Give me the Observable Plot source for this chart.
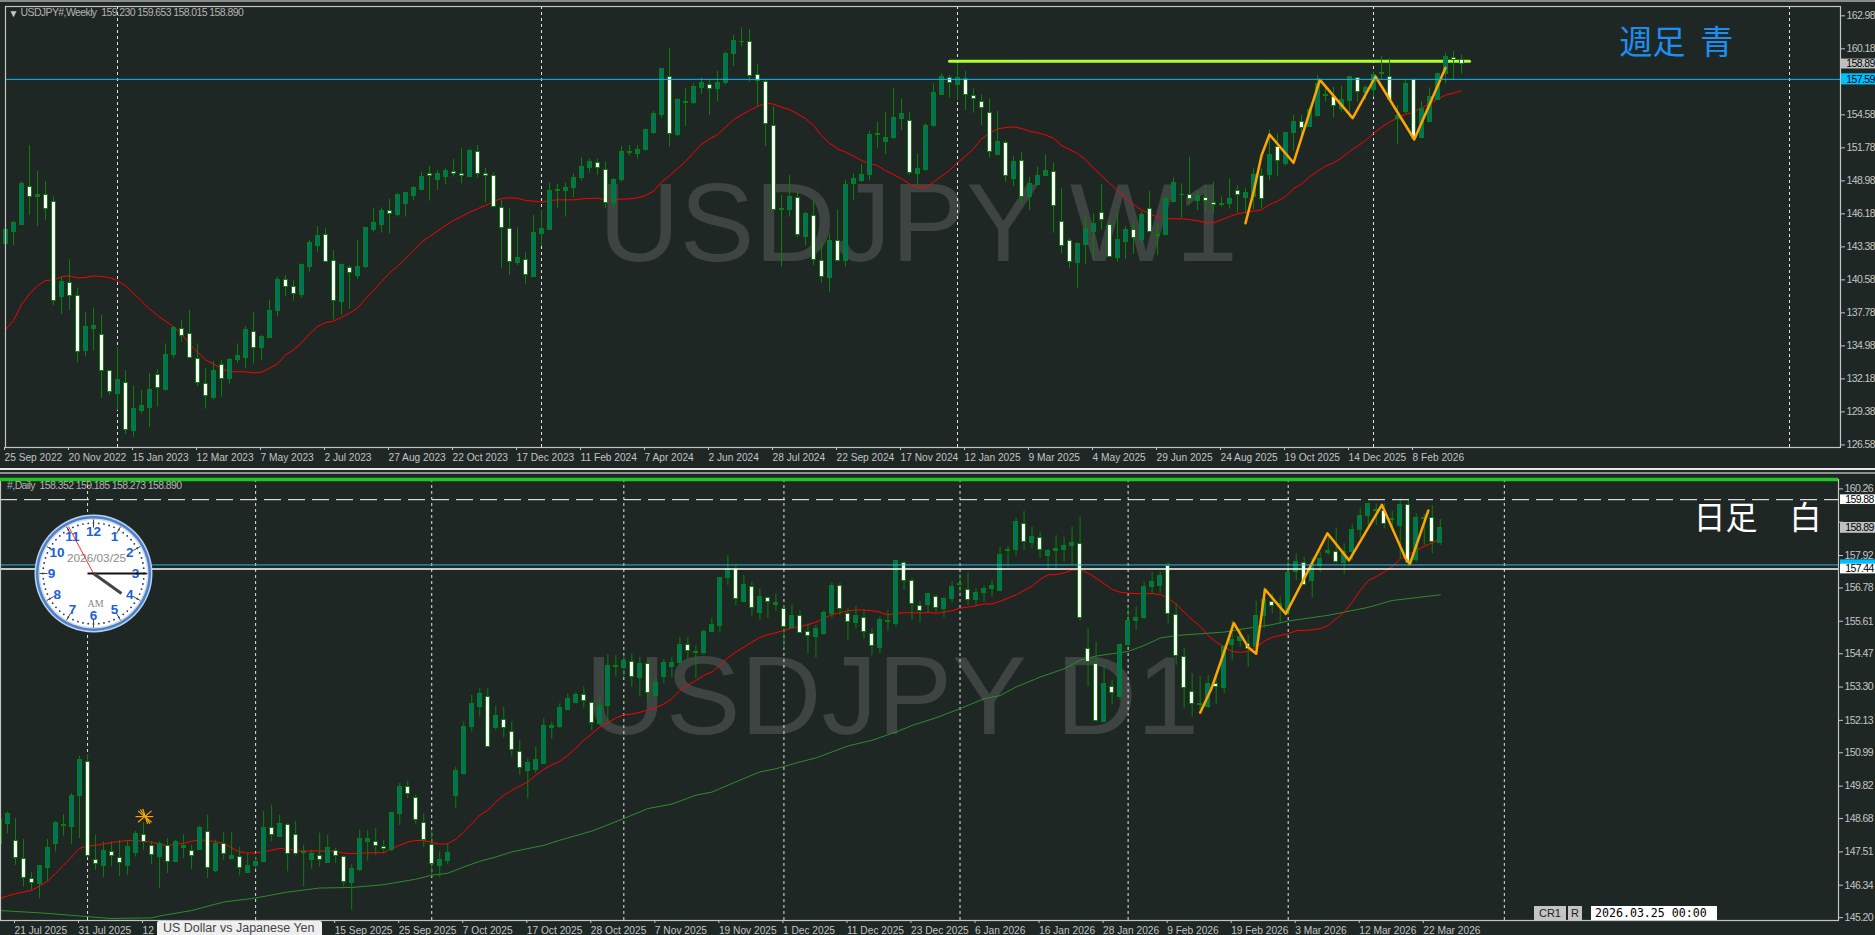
<!DOCTYPE html>
<html><head><meta charset="utf-8">
<script src="https://cdn.jsdelivr.net/npm/d3@7"></script>
<script src="https://cdn.jsdelivr.net/npm/@observablehq/plot@0.6"></script>
<style>
html,body{margin:0;padding:0;background:#1e2724;overflow:hidden}
#page{position:relative;width:1875px;height:935px;overflow:hidden;background:#1e2724;font-family:"Liberation Sans",sans-serif}
#page>div{position:absolute}
#page svg{display:block;background:transparent}
.bar{box-sizing:border-box;text-align:center;color:#222;font-size:11px}
</style></head><body><div id="page">
<div style="left:0;top:0;width:1875px;height:2px;background:#8a8a8a"></div>
<div id="weekly" style="left:0;top:0"></div>
<div style="left:0;top:468px;width:1875px;height:2px;background:#e8e8e8"></div>
<div style="left:0;top:472px;width:1875px;height:2px;background:#8f8f8f"></div>
<div id="daily" style="left:0;top:470px"></div>
<div id="clock" style="left:31px;top:511px"></div>
<div style="left:157px;top:921px;width:165px;height:14px;background:#eeeeee;border-radius:2px 2px 0 0;color:#444;font-size:12.5px;line-height:15px;padding-left:6px;box-sizing:border-box;white-space:nowrap;overflow:hidden">US Dollar vs Japanese Yen</div>
<div class="bar" style="left:1534px;top:906px;width:32px;height:14px;background:#c4c4c4;line-height:15px">CR1</div>
<div class="bar" style="left:1568px;top:906px;width:14px;height:14px;background:#c4c4c4;line-height:15px">R</div>
<div style="left:1591px;top:906px;width:126px;height:14px;background:#fff;color:#000;font:11.6px 'DejaVu Sans Mono',monospace;line-height:15px;padding-left:4px;box-sizing:border-box;white-space:nowrap">2026.03.25 00:00</div>
</div>
<script>
// ---------- weekly candles ----------
const wOpen=[143.64,144.63,145.25,148.5,147.6,147.74,147.17,139.11,140.3,139.2,134.53,136.4,135.89,132.83,130.91,131.87,127.77,129.44,129.72,132.49,131.25,134.22,136.37,135.97,133.85,131.73,130.57,133.34,132.18,133.77,133.96,136.14,134.81,135.66,137.95,140.58,139.96,139.28,141.66,143.44,144.37,142.17,138.69,141.57,140.89,141.66,144.8,145.25,146.41,146.07,147.0,147.68,148.22,149.55,149.04,149.32,149.77,149.55,149.32,151.41,149.55,149.38,146.66,144.88,141.97,142.25,140.84,144.48,144.8,148.1,148.13,148.36,149.24,150.08,150.48,149.94,147.11,149.01,151.33,151.24,151.58,153.02,154.55,157.75,152.85,155.57,155.57,156.84,157.07,156.76,157.27,159.76,160.75,160.75,158.0,157.35,153.62,146.52,146.52,147.51,144.2,145.98,142.17,140.75,143.86,142.17,148.7,148.98,149.46,152.85,152.26,152.6,154.21,154.04,149.57,149.86,153.62,156.25,157.72,157.1,157.61,156.14,155.65,154.72,151.19,152.18,149.15,150.65,147.6,148.67,149.4,149.69,145.47,143.86,141.99,143.55,144.68,146.24,145.22,142.45,143.8,144.8,143.95,146.63,144.31,144.4,147.2,147.82,147.76,147.28,147.51,147.14,146.89,147.03,148.1,147.54,147.6,149.38,149.49,151.84,150.42,153.05,153.93,153.59,154.47,156.16,156.08,155.09,155.74,157.69,156.42,156.7,158.06,157.83,154.24,154.81,157.52,152.63,153.96,155.88,158.03,159.44,159.23];
const wClose=[144.77,145.42,148.73,147.65,147.79,146.61,138.83,140.38,139.17,134.42,136.57,136.68,132.86,131.11,132.1,127.86,129.61,129.89,131.25,131.42,134.22,136.51,135.86,133.99,131.87,130.77,132.86,132.18,133.79,134.13,136.31,134.84,135.75,137.92,140.58,139.99,139.39,141.85,143.72,144.31,142.11,138.8,141.85,141.17,141.68,145.0,145.42,146.44,146.18,147.82,147.91,148.41,149.29,149.35,149.6,149.83,149.57,149.35,151.53,149.57,149.43,146.77,145.02,142.11,142.45,141.01,144.54,144.91,148.13,148.22,148.39,149.24,150.14,150.59,150.11,147.06,149.07,151.44,151.44,151.61,153.31,154.66,158.43,152.97,155.8,155.68,156.96,157.3,156.81,157.3,159.76,160.86,160.8,157.86,157.49,153.82,146.49,146.61,147.6,144.4,146.18,142.28,140.84,143.86,142.22,148.64,149.15,149.49,152.85,152.97,152.63,154.33,154.66,149.63,150.0,153.65,156.45,157.78,157.3,157.72,156.28,155.94,155.17,151.44,152.29,149.35,150.59,147.62,148.73,149.4,149.83,146.86,143.47,142.11,143.64,144.88,145.33,145.67,142.53,143.98,144.82,144.17,146.1,144.68,144.4,147.45,148.78,147.76,147.4,147.68,147.23,146.97,147.0,147.45,147.74,147.96,149.49,147.45,151.19,150.68,153.02,153.99,153.5,154.95,157.21,156.28,155.37,155.85,157.75,156.53,156.87,157.95,158.14,155.8,154.44,157.21,152.54,155.09,156.08,158.03,159.5,159.25,158.89];
const wHigh=[144.91,145.56,148.92,151.98,149.77,148.92,147.6,140.81,142.28,139.9,137.84,138.2,137.56,132.89,134.81,132.89,131.56,131.2,132.61,132.97,135.15,136.62,137.13,137.98,135.15,133.03,133.65,133.79,133.91,135.15,136.62,137.78,135.86,138.83,140.81,140.92,140.52,141.94,143.92,145.11,144.91,143.07,141.94,141.8,143.92,145.0,146.61,146.69,147.4,147.93,148.02,148.5,149.72,150.2,149.86,150.0,150.79,151.7,151.64,151.98,150.05,149.66,147.31,146.61,145.0,142.87,146.04,146.46,148.81,148.67,148.78,149.57,150.93,150.82,150.82,150.59,149.15,151.89,151.98,151.98,153.39,154.86,158.51,160.18,155.94,156.81,157.21,157.72,157.55,158.26,159.9,161.31,161.96,161.82,158.85,157.63,155.29,147.74,149.43,148.02,146.32,147.26,143.78,144.48,146.52,149.01,149.57,150.37,153.17,153.96,154.81,156.79,155.91,154.78,151.27,153.82,157.21,158.06,157.92,158.91,158.26,156.79,156.28,155.94,154.86,152.35,151.04,151.36,149.29,150.14,151.21,150.51,148.3,144.06,143.69,145.95,146.18,148.64,145.62,146.27,145.11,145.47,146.32,148.08,145.28,147.6,149.24,148.73,150.99,148.1,148.58,148.87,147.6,149.15,148.58,148.3,150.0,150.0,153.31,152.97,153.11,154.52,154.52,155.23,157.92,156.93,156.93,156.98,157.83,157.72,157.07,158.2,159.53,159.33,155.37,157.49,157.63,155.71,156.87,158.11,159.81,159.95,159.653];
const wLow=[143.13,143.49,145.19,146.04,145.11,145.62,138.4,137.64,137.98,133.54,134.08,134.53,130.51,130.77,129.5,127.46,127.23,129.21,128.08,129.78,131.14,133.94,135.29,133.94,131.53,129.61,130.4,130.63,131.76,133.51,133.03,133.45,133.74,135.63,137.47,139.17,138.77,139.03,141.23,142.93,142.05,137.19,137.61,138.06,140.61,141.52,144.63,144.54,144.48,145.9,145.9,147.31,148.16,147.26,148.16,148.67,149.29,148.73,149.29,149.21,147.11,146.69,141.57,140.95,141.8,140.21,140.78,143.41,144.77,146.63,145.9,147.54,148.95,149.63,149.43,146.61,146.52,148.87,151.1,150.79,151.5,152.91,154.3,151.84,152.74,153.59,155.46,156.3,154.52,155.71,157.1,158.68,160.32,157.35,155.29,151.89,146.41,141.66,145.9,144.15,143.44,141.8,140.3,139.53,142.08,141.66,147.31,148.84,149.01,151.75,151.21,152.49,153.25,149.43,148.58,149.8,153.53,156.22,155.99,155.8,154.95,154.72,153.67,150.93,151.13,148.87,148.5,147.03,146.46,148.58,149.35,144.54,142.79,141.57,139.87,141.88,142.28,144.82,142.45,142.08,142.31,142.73,143.64,144.57,142.65,144.31,147.11,145.84,146.89,146.46,146.32,146.18,146.75,146.61,146.24,146.18,146.52,146.61,149.01,149.35,150.22,151.5,152.4,153.53,154.38,155.65,154.3,154.81,154.33,155.65,155.8,156.08,157.49,155.65,152.06,154.66,152.35,152.54,153.9,155.8,157.21,157.55,158.015];
const wMA=[136.34,137.13,138.49,139.39,140.1,140.52,140.58,140.84,140.92,140.75,140.78,140.92,140.86,140.78,140.52,140.07,139.45,138.77,138.12,137.56,137.07,136.62,136.0,135.15,134.45,133.79,133.45,133.03,132.8,132.78,132.78,132.69,132.75,133.09,133.45,134.22,134.64,135.24,136.0,136.62,136.96,137.07,137.41,137.75,138.2,138.97,139.68,140.44,141.15,141.74,142.36,143.07,143.78,144.26,144.71,145.19,145.62,145.95,146.31,146.61,146.89,147.23,147.48,147.54,147.51,147.31,147.26,147.17,147.31,147.37,147.37,147.37,147.45,147.48,147.51,147.37,147.37,147.43,147.45,147.54,147.74,148.1,148.87,149.43,150.0,150.62,151.36,152.09,152.54,152.88,153.53,154.16,154.58,154.95,155.29,155.57,155.49,155.23,155.03,154.66,154.27,153.67,152.83,152.18,151.7,151.41,151.07,150.71,150.42,150.28,149.86,149.52,149.15,148.73,148.41,148.39,148.87,149.38,149.86,150.51,151.07,151.7,152.54,153.02,153.39,153.5,153.56,153.42,153.19,153.05,152.88,152.6,151.98,151.64,151.3,150.79,150.05,149.43,148.78,148.16,147.54,146.97,146.52,146.18,145.9,145.79,145.76,145.76,145.7,145.59,145.45,145.42,145.67,145.95,146.18,146.31,146.41,146.52,146.97,147.26,147.65,148.3,148.73,149.29,149.8,150.22,150.51,150.93,151.47,151.92,152.4,153.02,153.53,153.96,154.33,154.61,154.83,155.17,155.51,155.91,156.25,156.42,156.62];
const wZigX=[155,156,157,158,161,164.3,168.4,171.25,176.1,180];
const wZigY=[145.39,148.02,151.13,152.91,150.51,157.55,154.3,157.83,152.49,158.57];
const wLimeX=[118,183];
const wLimeY=[159.13,159.13];
const wSep=[14,67,119,171,223];
const wTickLabels=["25 Sep 2022","20 Nov 2022","15 Jan 2023","12 Mar 2023","7 May 2023","2 Jul 2023","27 Aug 2023","22 Oct 2023","17 Dec 2023","11 Feb 2024","7 Apr 2024","2 Jun 2024","28 Jul 2024","22 Sep 2024","17 Nov 2024","12 Jan 2025","9 Mar 2025","4 May 2025","29 Jun 2025","24 Aug 2025","19 Oct 2025","14 Dec 2025","8 Feb 2026"];
const wYTicks=[162.98,160.18,157.38,154.58,151.78,148.98,146.18,143.38,140.58,137.78,134.98,132.18,129.38,126.58];
const wYHidden=[157.38];
// ---------- daily candles ----------
const dOpen=[147.78,148.5,147.88,147.25,146.56,146.38,146.95,147.77,148.43,148.4,149.49,150.67,147.23,147.03,147.51,147.29,147.0,147.48,148.09,147.71,147.34,147.71,147.17,147.66,147.53,147.57,148.2,146.85,147.78,147.27,147.32,146.78,147.03,147.17,148.35,148.05,148.46,148.09,147.47,147.23,147.36,147.13,147.53,147.32,146.42,146.89,147.87,147.85,147.67,147.57,148.85,149.78,149.4,148.51,147.75,147.03,147.19,149.49,150.25,151.91,152.6,152.95,151.87,152.13,151.71,151.01,150.36,150.37,150.61,151.86,151.9,152.5,152.75,153.02,152.73,152.01,152.63,154.01,153.98,154.18,153.63,154.11,152.98,153.66,154.01,154.15,154.76,154.49,154.49,155.24,155.45,157.14,157.43,156.29,156.81,155.91,156.42,156.19,156.03,155.39,155.78,155.22,155.05,155.17,155.87,156.84,155.85,155.55,155.74,155.18,154.67,155.62,155.51,157.65,157.02,156.13,156.17,156.46,156.04,156.39,156.91,156.7,156.35,156.6,156.74,156.69,158.07,158.11,159.02,158.37,158.55,157.91,158.08,158.11,158.25,158.34,154.63,154.11,152.08,153.29,152.96,154.77,155.62,155.72,156.81,156.86,157.55,155.82,154.35,153.12,152.68,152.61,153.4,153.28,154.79,154.93,154.8,154.69,155.79,156.28,156.11,155.93,157.34,157.66,157.02,157.55,158.0,158.06,157.66,158.04,158.81,159.3,159.48,159.5,159.15,158.95,159.68,157.75,159.21,159.23,158.352];
const dClose=[148.63,148.83,147.31,146.61,146.43,147.0,147.65,148.53,148.47,149.47,150.74,147.38,147.08,147.54,147.37,147.11,147.68,148.14,147.87,147.39,147.78,147.17,147.86,147.7,147.36,148.36,146.93,147.77,147.43,147.37,146.95,147.03,147.16,148.35,148.09,148.49,147.44,147.44,147.51,147.44,147.22,147.65,147.37,146.44,146.91,147.98,147.98,147.71,147.6,148.88,149.79,149.53,148.62,147.92,147.08,147.24,147.47,150.35,151.9,152.7,153.05,151.18,152.28,151.86,151.08,150.45,150.63,150.74,151.93,151.93,152.56,152.88,153.03,152.8,152.02,152.63,154.05,154.05,154.21,153.66,154.12,153.08,153.45,154.15,154.15,154.79,154.55,154.54,155.24,155.49,157.14,157.43,156.41,156.89,156.06,156.47,156.27,156.24,155.42,155.8,155.21,155.08,155.35,155.91,156.86,156.03,155.57,155.79,155.22,154.73,155.66,155.57,157.73,157.04,156.22,155.97,156.58,156.06,156.4,156.82,156.87,156.37,156.62,156.75,156.86,157.94,158.12,159.1,158.41,158.58,158.1,158.08,158.16,158.26,158.37,155.73,154.18,152.12,153.42,153.08,154.77,155.63,155.73,156.82,157.0,157.21,155.85,154.4,153.25,152.71,152.71,153.42,153.29,154.7,154.96,155.07,154.62,155.79,156.37,156.13,156.22,157.31,157.7,156.89,157.57,157.79,158.07,157.68,158.06,158.82,159.31,159.73,159.52,159.01,159.2,159.7,157.66,159.24,159.25,158.39,158.89];
const dHigh=[148.74,148.91,148.68,147.95,146.78,147.04,147.95,148.58,148.82,149.56,150.87,150.92,148.09,147.86,147.86,147.92,147.92,148.23,148.54,147.88,147.86,147.98,147.92,148.12,147.74,148.41,148.8,147.92,148.19,148.19,147.68,147.45,147.3,148.95,149.15,148.8,148.5,148.58,147.74,147.57,148.17,148.09,147.63,147.37,147.06,148.27,148.25,148.33,147.92,148.91,149.91,149.99,149.5,148.85,148.23,147.51,147.8,150.49,152.07,153.01,153.26,153.26,152.63,152.6,152.07,151.43,150.78,151.19,152.19,152.07,152.71,153.07,153.1,153.3,152.77,152.95,154.44,154.41,154.41,154.47,154.35,154.29,153.59,154.27,154.35,155.05,155.05,154.74,155.31,155.72,157.16,157.92,157.57,157.22,156.99,156.75,156.46,156.58,156.17,156.19,155.99,155.52,155.46,155.99,156.96,156.95,156.05,156.14,155.99,155.35,155.76,155.99,157.77,157.71,157.1,156.31,156.6,156.54,156.46,156.99,157.28,157.31,156.75,156.84,157.04,158.21,158.24,159.23,159.47,158.92,158.74,158.13,158.62,158.56,158.92,159.27,155.35,154.88,154.06,153.53,154.82,156.11,156.11,156.99,157.34,157.34,157.66,156.24,154.67,153.77,153.67,153.71,153.65,154.76,155.64,155.35,155.11,156.31,156.81,156.58,156.46,157.78,157.98,157.86,157.86,158.04,158.68,158.89,158.33,159.0,159.58,159.76,159.73,159.73,159.47,159.91,159.85,159.38,159.38,159.68,159.185];
const dLow=[147.74,148.15,147.04,146.28,146.16,145.87,146.46,147.51,148.07,147.78,147.98,147.3,146.86,146.6,146.98,146.65,146.69,147.33,147.57,147.06,146.22,146.75,147.13,147.27,146.89,147.57,146.57,146.78,147.22,147.22,146.67,146.75,146.89,147.13,147.86,148.03,146.81,147.36,146.28,146.9,146.98,147.12,147.1,146.28,145.46,146.81,147.18,147.39,147.44,147.51,148.44,149.38,148.47,147.68,146.63,146.6,147.06,149.03,150.2,151.72,152.25,151.16,151.78,151.51,150.84,150.2,149.38,150.26,150.61,151.46,151.84,152.48,152.71,152.56,151.76,151.95,152.09,153.65,153.65,153.3,152.95,152.75,152.95,153.42,153.62,154.08,154.24,153.59,154.41,155.2,155.2,156.87,156.14,156.26,155.79,155.64,155.7,155.96,154.65,155.35,155.2,154.47,154.32,155.11,155.72,155.82,154.94,155.35,154.98,154.39,154.47,155.25,155.41,156.69,155.64,155.55,155.91,155.91,155.72,156.26,156.58,156.17,156.17,156.28,156.46,156.66,157.51,157.9,158.1,158.16,157.83,157.43,157.45,157.69,157.57,155.62,153.3,152.07,152.07,152.68,152.83,154.7,155.29,155.67,156.55,156.58,155.52,154.06,152.54,152.25,152.42,152.54,152.69,153.07,154.24,154.7,154.0,154.47,155.35,155.87,155.52,155.87,157.04,156.87,156.42,157.31,157.92,157.63,157.25,157.75,158.53,158.97,158.97,158.86,158.74,157.8,157.51,157.69,158.27,157.98,158.273];
const dMA1=[145.87,145.96,146.04,146.1,146.16,146.31,146.48,146.75,147.04,147.33,147.63,147.72,147.74,147.79,147.84,147.88,147.91,147.91,147.88,147.86,147.77,147.73,147.78,147.81,147.88,147.93,147.91,147.87,147.81,147.65,147.51,147.47,147.47,147.51,147.57,147.63,147.61,147.55,147.54,147.54,147.54,147.54,147.53,147.47,147.45,147.46,147.48,147.48,147.48,147.63,147.74,147.86,147.91,147.91,147.84,147.78,147.8,147.95,148.21,148.5,148.8,148.97,149.26,149.5,149.67,149.82,149.97,150.2,150.41,150.57,150.69,150.9,151.16,151.43,151.66,151.9,152.05,152.21,152.33,152.35,152.41,152.5,152.57,152.71,152.89,153.18,153.36,153.53,153.71,153.83,154.06,154.33,154.53,154.7,154.88,155.04,155.14,155.21,155.29,155.37,155.42,155.49,155.58,155.72,155.84,155.91,155.98,156.01,156.01,155.98,155.93,155.83,155.89,155.91,155.91,155.9,155.92,155.89,155.93,155.98,156.07,156.11,156.15,156.22,156.22,156.31,156.42,156.54,156.69,156.84,157.08,157.24,157.25,157.31,157.41,157.42,157.3,157.13,156.93,156.73,156.63,156.6,156.58,156.58,156.58,156.55,156.42,156.22,155.93,155.67,155.43,155.11,154.88,154.7,154.55,154.52,154.55,154.7,154.91,155.05,155.11,155.17,155.28,155.29,155.31,155.35,155.46,155.7,155.93,156.28,156.69,157.04,157.18,157.34,157.53,157.8,157.94,158.1,158.24,158.37,158.49];
const dMA2X=[0,5,10,13,14,18,19,20,24,28,32,36,40,44,48,52,54,56,58,60,62,64,68,70,74,78,81,84,87,89,92,95,97,100,102,104,106,109,112,114,117,120,123,125,127,130,133,135,137,139,141,143,145,147,150,153,156,159,161,166,171,174,177,180];
const dMA2Y=[145.45,145.37,145.26,145.19,145.17,145.19,145.19,145.26,145.45,145.75,145.89,146.1,146.24,146.26,146.36,146.55,146.69,146.76,146.98,147.18,147.33,147.51,147.74,147.92,148.24,148.68,149.03,149.19,149.5,149.61,149.97,150.32,150.43,150.67,150.81,151.02,151.23,151.43,151.72,151.95,152.22,152.54,152.89,153.0,153.3,153.65,153.94,154.24,154.39,154.47,154.55,154.76,155.02,155.11,155.17,155.23,155.37,155.49,155.62,155.82,156.1,156.34,156.44,156.54];
const dZigX=[150,151.4,153,154.2,156,157,158.1,160.7,165.9,168.6,172.7,175.7,176.2,178.5];
const dZigY=[152.4,153.24,154.53,155.55,154.7,154.47,156.73,155.87,158.7,157.75,159.7,157.8,157.62,159.5];
const dSep=[11,32,54,78,98,120,141,161,188];
const dTickLabels=["21 Jul 2025","31 Jul 2025","12","","","15 Sep 2025","25 Sep 2025","7 Oct 2025","17 Oct 2025","28 Oct 2025","7 Nov 2025","19 Nov 2025","1 Dec 2025","11 Dec 2025","23 Dec 2025","6 Jan 2026","16 Jan 2026","28 Jan 2026","9 Feb 2026","19 Feb 2026","3 Mar 2026","12 Mar 2026","22 Mar 2026"];
const dYTicks=[160.26,159.09,157.92,156.78,155.61,154.47,153.3,152.13,150.99,149.82,148.68,147.51,146.34,145.2];
const dYHidden=[159.09];
// ---------- clock ----------
const clockHours=[12,1,2,3,4,5,6,7,8,9,10,11];

const BG="#1e2724",GREEN="#0a800a",TEAL="#00706b",AXIS="#c4c4c4",CYAN="#00bfff";
const rows=(O,H,L,C)=>O.map((o,i)=>({i,o,h:H[i],l:L[i],c:C[i]}));
const xy=(X,Y)=>X.map((x,k)=>({x,y:Y[k]}));
function candles(data){
  const body={x1:d=>d.i-.25,x2:d=>d.i+.25,y1:"o",y2:"c",stroke:GREEN,strokeWidth:1,shapeRendering:"crispEdges"};
  return [
    Plot.ruleX(data,{x:"i",y1:"l",y2:"h",stroke:GREEN,strokeWidth:1}),
    Plot.rect(data.filter(d=>d.c>=d.o),{...body,fill:TEAL}),
    Plot.rect(data.filter(d=>d.c<d.o),{...body,fill:"#ffffff"})
  ];
}
function priceBox(y,half,fill,label,x1){
  const marks=[Plot.rect([0],{x1:x1,x2:x1+8,y1:y-half,y2:y+half,fill})];
  if(label) marks.push(Plot.text([label],{x:x1+.6,y,text:d=>d,textAnchor:"start",fill:"#000",fontSize:10.5}));
  return marks;
}
const axisStyle={fontFamily:"Liberation Sans",fontSize:"10.5px",background:"transparent",color:AXIS};
const yFmt=hidden=>d=>hidden.includes(d)?"":d.toFixed(2);

const wRows=rows(wOpen,wHigh,wLow,wClose);
const weekly=Plot.plot({
  width:1875,height:470,marginLeft:5,marginRight:35,marginTop:6,marginBottom:23,
  style:axisStyle,
  x:{domain:[0,229.375],range:[5,1840]},
  y:{domain:[126.36,163.77],range:[447,6]},
  marks:[
    Plot.text(["USDJPY W1"],{x:114.1,y:145.19,text:d=>d,fontSize:112,fill:"#3d4442",fontFamily:"Liberation Sans"}),
    Plot.ruleX(wSep,{stroke:"#e4e4e4",strokeDasharray:"3,3",strokeWidth:1}),
    Plot.line(xy(wLimeX,wLimeY),{x:"x",y:"y",stroke:"#adff2f",strokeWidth:3}),
    Plot.line(wMA.map((y,x)=>({x,y})),{x:"x",y:"y",stroke:"#ff0000",strokeWidth:1}),
    ...candles(wRows),
    Plot.line(xy(wZigX,wZigY),{x:"x",y:"y",stroke:"#ffa500",strokeWidth:2.5}),
    Plot.ruleY([157.59],{stroke:CYAN,strokeWidth:1}),
    Plot.frame({stroke:AXIS,strokeWidth:1.2}),
    Plot.axisX({ticks:wTickLabels.map((_,k)=>k*8),tickFormat:d=>wTickLabels[d/8],tickSize:3,tickPadding:3,textAnchor:"start",dx:-1,stroke:AXIS,fill:AXIS,fontSize:10.2,label:null}),
    Plot.axisY({anchor:"right",ticks:wYTicks,tickFormat:yFmt(wYHidden),tickSize:4,tickPadding:2,stroke:AXIS,fill:AXIS,fontSize:10.5,label:null}),
    ...priceBox(158.89,.42,"#c0c0c0","158.89",229.5),
    ...priceBox(157.59,.47,CYAN,"157.59",229.5),
    Plot.text(["\u25BC"],{frameAnchor:"top-left",dx:3,dy:3,text:d=>d,fill:AXIS,fontSize:10,lineAnchor:"top"}),
    Plot.text(["USDJPY#,Weekly\u00A0\u00A0159.230 159.653 158.015 158.890"],{frameAnchor:"top-left",dx:15,dy:2,text:d=>d,textAnchor:"start",fill:"#b4b4b4",fontSize:10.5,lineAnchor:"top"}),
    Plot.text(["\u9031\u8DB3\u00A0\u00A0\u9752"],{x:201.75,y:160.63,text:d=>d,textAnchor:"start",fontSize:33,fill:"#1e8ff0",fontFamily:"Noto Sans CJK JP"})
  ]
});
document.getElementById("weekly").append(weekly);

const dRows=rows(dOpen,dHigh,dLow,dClose);
const daily=Plot.plot({
  width:1875,height:465,marginLeft:0,marginRight:37,marginTop:9,marginBottom:15,
  style:axisStyle,
  x:{domain:[.125,229.75],range:[0,1838]},
  y:{domain:[145.1,160.59],range:[450,9]},
  marks:[
    Plot.text(["USDJPY D1"],{x:111.5,y:152.92,text:d=>d,fontSize:112,fill:"#3d4442",fontFamily:"Liberation Sans"}),
    Plot.ruleX(dSep,{stroke:"#e4e4e4",strokeDasharray:"3,3",strokeWidth:1}),
    Plot.line(xy(dMA2X,dMA2Y),{x:"x",y:"y",stroke:"#2e8b2e",strokeWidth:1}),
    Plot.line(dMA1.map((y,x)=>({x,y})),{x:"x",y:"y",stroke:"#ff0000",strokeWidth:1}),
    ...candles(dRows),
    Plot.line(xy(dZigX,dZigY),{x:"x",y:"y",stroke:"#ffa500",strokeWidth:2.5}),
    Plot.ruleY([159.881],{stroke:"#ffffff",strokeDasharray:"17,7",strokeWidth:1}),
    Plot.ruleY([157.59],{stroke:"#29b6e8",strokeWidth:1}),
    Plot.ruleY([157.445],{stroke:"#ffffff",strokeWidth:1.5}),
    Plot.frame({stroke:AXIS,strokeWidth:1.2}),
    Plot.ruleY([160.59],{stroke:"#22c322",strokeWidth:3.5}),
    Plot.axisX({ticks:dTickLabels.map((_,k)=>2+k*8),tickFormat:d=>dTickLabels[(d-2)/8],tickSize:3,tickPadding:3,textAnchor:"start",dx:-1,stroke:AXIS,fill:AXIS,fontSize:10.2,label:null}),
    Plot.axisY({anchor:"right",ticks:dYTicks,tickFormat:yFmt(dYHidden),tickSize:4,tickPadding:2,stroke:AXIS,fill:AXIS,fontSize:10.5,label:null}),
    ...priceBox(159.881,.17,"#ffffff","159.88",230),
    ...priceBox(158.89,.19,"#c0c0c0","158.89",230),
    ...priceBox(157.597,.17,CYAN,null,230),
    ...priceBox(157.445,.17,"#ffffff","157.44",230),
    Plot.text(["#,Daily\u00A0\u00A0158.352 159.185 158.273 158.890"],{x:22.75,y:160.36,text:d=>d,textAnchor:"end",fill:"#b4b4b4",fontSize:10.5}),
    Plot.link([[17.3,148.95,19,148.55],[17.3,148.55,19,148.95],[17.6,149.0,18.8,148.5],[17.9,149.02,18.5,148.5],[17.0,148.75,19.2,148.75]],{x1:"0",y1:"1",x2:"2",y2:"3",stroke:"#ffa500",strokeWidth:1.2}),
    Plot.text(["\u65E5\u8DB3\u3000\u767D"],{x:211.65,y:159.2,text:d=>d,textAnchor:"start",fontSize:32,fill:"#ffffff",fontFamily:"Noto Sans CJK JP"})
  ]
});
document.getElementById("daily").append(daily);

const rad=d=>d*Math.PI/180;
const pol=(deg,r)=>[r*Math.sin(rad(deg)),-r*Math.cos(rad(deg))];
const clock=Plot.plot({
  width:124,height:124,margin:0,
  style:{background:"transparent",fontFamily:"Liberation Sans"},
  x:{domain:[-62,62],range:[0,124],axis:null},
  y:{domain:[-62,62],range:[0,124],axis:null},
  marks:[
    Plot.dot([0],{x:0,y:0,r:59,fill:"#bcd3f0"}),
    Plot.dot([0],{x:0,y:0,r:57.5,fill:"#4a80cc"}),
    Plot.dot([0],{x:0,y:0,r:55,fill:"#d5dce6"}),
    Plot.dot([0],{x:0,y:0,r:53.5,fill:"#ffffff"}),
    Plot.dot(d3.range(60),{x:d=>pol(d*6,50.5)[0],y:d=>pol(d*6,50.5)[1],r:.9,fill:"#1d2f5c"}),
    Plot.link(clockHours,{x1:d=>pol(d*30,46)[0],y1:d=>pol(d*30,46)[1],x2:d=>pol(d*30,54)[0],y2:d=>pol(d*30,54)[1],stroke:"#444",strokeWidth:1}),
    Plot.text(clockHours,{x:d=>pol(d*30,42)[0],y:d=>pol(d*30,42)[1],text:d=>String(d),fill:"#1a60d8",fontWeight:"bold",fontSize:13.5}),
    Plot.text(["2026/03/25"],{x:3,y:-15,text:d=>d,fill:"#8c8c8c",fontSize:11.8}),
    Plot.text(["AM"],{x:2,y:30,text:d=>d,fill:"#888",fontSize:10,fontFamily:"Liberation Serif"}),
    Plot.link([[-6,0,53,0]],{x1:"0",y1:"1",x2:"2",y2:"3",stroke:"#111",strokeWidth:2}),
    Plot.link([[0,0,28,20]],{x1:"0",y1:"1",x2:"2",y2:"3",stroke:"#444",strokeWidth:3}),
    Plot.link([[0,0,-25,-47]],{x1:"0",y1:"1",x2:"2",y2:"3",stroke:"#e00",strokeWidth:.8})
  ]
});
document.getElementById("clock").append(clock);
document.querySelectorAll("#page svg text").forEach(t=>{
  const s=t.textContent;
  if(/^\d{3}\.\d\d$/.test(s)) t.style.letterSpacing="-.6px";
  else if(/Weekly|Daily/.test(s)) t.style.letterSpacing="-.6px";
});
</script></body></html>
